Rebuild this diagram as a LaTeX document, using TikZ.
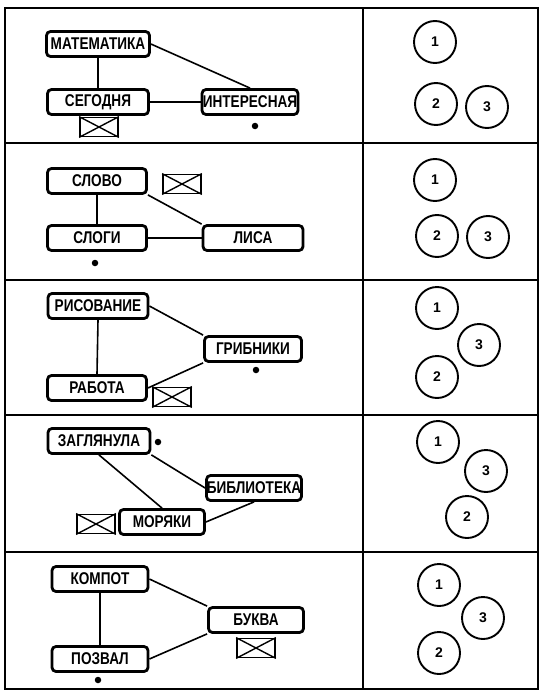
\documentclass[tikz,border=0pt]{standalone}
\usepackage{fontspec}
\newfontfamily\nodefont[FakeStretch=0.8]{Liberation Sans Bold}
\newfontfamily\numfont{Liberation Sans Bold}
\tikzset{
  word/.style={draw, line width=2.8pt, rounded corners=4pt, fill=white, inner sep=0pt,
    minimum height=25pt, font=\nodefont\fontsize{17}{17}\selectfont},
  xbox/.style={draw, line width=1.8pt, minimum width=38pt, minimum height=19pt, inner sep=0pt},
  num/.style={draw, circle, line width=1.9pt, minimum size=42pt, inner sep=0pt,
    font=\numfont\fontsize{14}{14}\selectfont},
  link/.style={line width=1.6pt},
  frame/.style={line width=1.5pt},
  dotmark/.style={fill, circle, inner sep=0pt, minimum size=6.5pt}
}
\newcommand{\crossbox}[2]{%
  \node[xbox] (#1) at (#2) {};
  \draw[line width=1.4pt] (#1.north west) -- (#1.south east);
  \draw[line width=1.4pt] (#1.south west) -- (#1.north east);}
\begin{document}
\begin{tikzpicture}[x=1pt,y=-1pt]
\useasboundingbox (0,0) rectangle (550,698);
% frame
\draw[frame] (5,8) rectangle (538,689);
\draw[frame] (363,8) -- (363,689);
\foreach \yy in {143,280,415,552} \draw[frame] (5,\yy) -- (538,\yy);

% row 1
\node[word, minimum width=103pt] (m1) at (98,44) {МАТЕМАТИКА};
\node[word, minimum width=101pt] (s1) at (98,102) {СЕГОДНЯ};
\node[word, minimum width=96pt] (i1) at (250,102) {ИНТЕРЕСНАЯ};
\crossbox{x1}{99,127}
\node[dotmark] (d1) at (255,126) {};
\draw[link] (m1.south) -- (s1.north);
\draw[link] (m1.east) -- (i1.north);
\draw[link] (s1.east) -- (i1.west);

% row 2
\node[word, minimum width=99pt] (sl) at (97,181) {СЛОВО};
\node[word, minimum width=99pt] (sg) at (97,238) {СЛОГИ};
\node[word, minimum width=100pt] (li) at (253,238) {ЛИСА};
\crossbox{x2}{182,184}
\node[dotmark] (d2) at (95,263) {};
\draw[link] (sl.south) -- (sg.north);
\draw[link] (sl.south east) -- (li.north west);
\draw[link] (sg.east) -- (li.west);

% row 3
\node[word, minimum width=100pt] (ri) at (98,306) {РИСОВАНИЕ};
\node[word, minimum width=97pt] (gr) at (253,349) {ГРИБНИКИ};
\node[word, minimum width=99pt] (ra) at (97,388) {РАБОТА};
\crossbox{x3}{172,397}
\node[dotmark] (d3) at (256,370) {};
\draw[link] (ri.south) -- (ra.north);
\draw[link] (ri.east) -- (gr.north west);
\draw[link] (ra.east) -- (gr.south west);

% row 4
\node[word, minimum width=102pt] (za) at (99,441) {ЗАГЛЯНУЛА};
\node[word, minimum width=95pt] (bi) at (254,488) {БИБЛИОТЕКА};
\node[word, minimum width=85pt] (mo) at (162,522) {МОРЯКИ};
\crossbox{x4}{96,524}
\node[dotmark] (d4) at (158,442) {};
\draw[link] (za.south) -- (mo.north);
\draw[link] (za.south east) -- (bi.west);
\draw[link] (mo.east) -- (bi.south);

% row 5
\node[word, minimum width=96pt] (ko) at (100,579) {КОМПОТ};
\node[word, minimum width=95pt] (bu) at (256,620) {БУКВА};
\node[word, minimum width=96pt] (po) at (100,659) {ПОЗВАЛ};
\crossbox{x5}{256,648}
\node[dotmark] (d5) at (98,680) {};
\draw[link] (ko.south) -- (po.north);
\draw[link] (ko.east) -- (bu.north west);
\draw[link] (po.east) -- (bu.south west);

% circles
\node[num] (a1) at (435,42) {1};
\node[num] (a2) at (436,104) {2};
\node[num] (a3) at (487,107) {3};
\node[num] (b1) at (435,180) {1};
\node[num] (b2) at (437,236) {2};
\node[num] (b3) at (488,237) {3};
\node[num] (c1) at (437,308) {1};
\node[num] (c3) at (479,345) {3};
\node[num] (c2) at (437,377) {2};
\node[num] (e1) at (438,442) {1};
\node[num] (e3) at (486,471) {3};
\node[num] (e2) at (467,517) {2};
\node[num] (f1) at (439,585) {1};
\node[num] (f3) at (483,618) {3};
\node[num] (f2) at (439,653) {2};
\end{tikzpicture}
\end{document}
